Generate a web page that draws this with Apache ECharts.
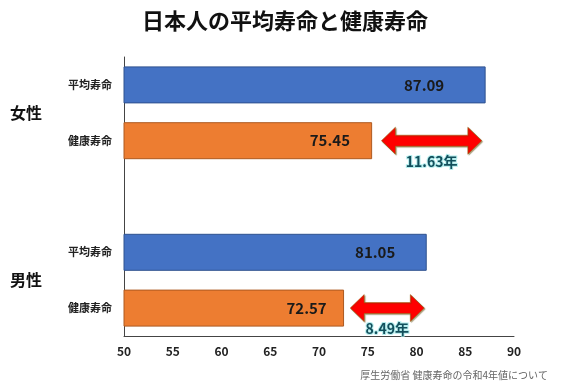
<!DOCTYPE html>
<html>
<head>
<meta charset="utf-8">
<script src="https://cdn.jsdelivr.net/npm/echarts@6/dist/echarts.min.js"></script>
<style>html,body{margin:0;padding:0;background:#fff}#c{width:562px;height:392px}</style>
</head>
<body>
<div id="c"></div>
<script>
const categories = ['平均寿命', '健康寿命', '', '平均寿命', '健康寿命'];
const femaleValues = [87.09, 75.45];
const maleValues = [81.05, 72.57];
const groupLabels = ['女性', '男性'];
const groupPositions = [0.5, 3.5];
const gapLabels = ['11.63年', '8.49年'];
const arrowStarts = [76.4, 73.2];
const arrowEnds = [86.7, 80.8];
const arrowRows = [1, 4];
const xMin = 50, xMax = 90, xInterval = 5;

const FONT = '"Noto Sans CJK JP", "Noto Sans", sans-serif';
const BLUE = '#4472C4', ORANGE = '#ED7D31';

function barItem(v, color, border) {
  return { value: v, itemStyle: { color: color, borderColor: border, borderWidth: 1 } };
}
const barData = [
  barItem(femaleValues[0], BLUE, '#2F528F'),
  barItem(femaleValues[1], ORANGE, '#AE5A21'),
  '-',
  barItem(maleValues[0], BLUE, '#2F528F'),
  barItem(maleValues[1], ORANGE, '#AE5A21')
];
const arrowData = arrowStarts.map((s, i) => [s, arrowEnds[i], arrowRows[i]]);

const chart = echarts.init(document.getElementById('c'));
chart.setOption({
  animation: false,
  textStyle: { fontFamily: FONT },
  title: [
    { text: '日本人の平均寿命と健康寿命', left: 137, top: 5,
      textStyle: { fontSize: 22, fontWeight: 'bold', color: '#111', fontFamily: FONT } },
    { text: '厚生労働省 健康寿命の令和4年値について', right: 9, bottom: 7,
      textStyle: { fontSize: 10, fontWeight: 'normal', color: '#666', fontFamily: FONT } }
  ],
  grid: { left: 124, right: 48, top: 57, bottom: 56, containLabel: false },
  xAxis: {
    type: 'value', min: xMin, max: xMax, interval: xInterval,
    axisLine: { show: true, onZero: false, lineStyle: { color: '#444', width: 1 } },
    axisTick: { show: false },
    splitLine: { show: false },
    axisLabel: { fontSize: 12, fontWeight: 'bold', color: '#222', margin: 9, fontFamily: FONT }
  },
  yAxis: [
    {
      type: 'category', data: categories, inverse: true,
      axisLine: { show: true, onZero: false, lineStyle: { color: '#444', width: 1 } },
      axisTick: { show: false },
      axisLabel: { fontSize: 11, fontWeight: 'bold', color: '#222', margin: 12, fontFamily: FONT }
    },
    {
      type: 'value', min: -0.5, max: 4.5, inverse: true, position: 'left',
      axisLine: { show: false }, axisTick: { show: false }, splitLine: { show: false },
      axisLabel: {
        customValues: groupPositions,
        formatter: v => groupLabels[groupPositions.indexOf(v)] || '',
        fontSize: 16, fontWeight: 'bold', color: '#111', margin: 82, fontFamily: FONT
      }
    }
  ],
  series: [
    {
      type: 'bar', yAxisIndex: 0, data: barData, barWidth: 37,
      label: {
        show: true, position: ['83%', '50%'], align: 'center', verticalAlign: 'middle',
        fontSize: 15, fontWeight: 'bold', color: '#1a1a1a', fontFamily: FONT,
        formatter: p => p.value.toFixed(2)
      }
    },
    {
      type: 'custom', yAxisIndex: 0, data: arrowData,
      encode: { x: [0, 1], y: 2 },
      renderItem: function (params, api) {
        const s = api.coord([api.value(0), api.value(2)]);
        const e = api.coord([api.value(1), api.value(2)]);
        const y = s[1], x1 = s[0], x2 = e[0];
        const hh = 13.5, sh = 5.5, hl = 14;
        const pts = [
          [x1, y], [x1 + hl, y - hh], [x1 + hl, y - sh], [x2 - hl, y - sh], [x2 - hl, y - hh],
          [x2, y], [x2 - hl, y + hh], [x2 - hl, y + sh], [x1 + hl, y + sh], [x1 + hl, y + hh]
        ];
        return {
          type: 'group',
          children: [
            { type: 'polygon', shape: { points: pts },
              style: { fill: '#FF0000', stroke: 'rgba(140,110,20,0.55)', lineWidth: 1,
                       shadowColor: 'rgba(90,70,0,0.5)', shadowOffsetX: 1, shadowOffsetY: 1, shadowBlur: 1 } },
            { type: 'text',
              style: { text: gapLabels[params.dataIndex], x: (x1 + x2) / 2, y: y + 21,
                       align: 'center', verticalAlign: 'middle',
                       fontSize: 14, fontWeight: 'bold', fontFamily: FONT,
                       fill: '#134F5C', stroke: 'rgba(150,230,230,0.7)', lineWidth: 2 } }
          ]
        };
      }
    }
  ]
});
</script>
</body>
</html>
